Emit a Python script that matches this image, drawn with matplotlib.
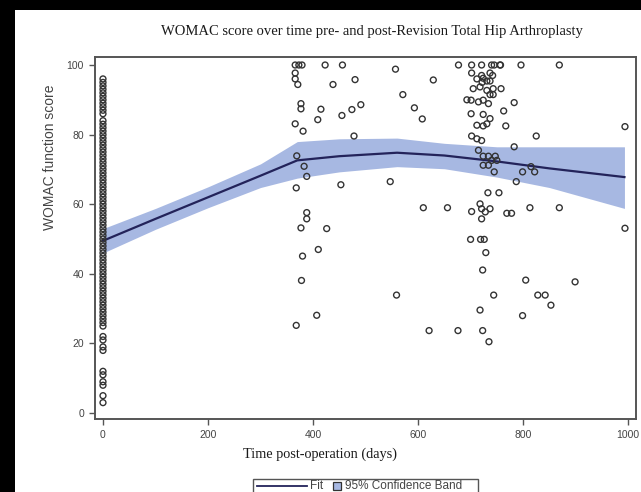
import numpy as np
import matplotlib
matplotlib.use("Agg")
import matplotlib.pyplot as plt
from matplotlib.lines import Line2D
from matplotlib.patches import Rectangle

# pre-operation scores (all at day 0)
pre_scores = [96, 95, 94, 93, 92, 91, 90, 89, 88, 87, 86, 84, 83, 82, 81, 80,
              79, 78, 77, 76, 75, 74, 73, 72, 71, 70, 69, 68, 67, 66, 65, 64,
              63, 62, 61, 60, 59, 58, 57, 56, 55, 54, 53, 52, 51, 50, 49, 48,
              47, 46, 45, 44, 43, 42, 41, 40, 39, 38, 37, 36, 35, 34, 33, 32,
              31, 30, 29, 28, 27, 26, 25, 22, 21, 19, 18, 12, 11, 9, 8, 5, 3]

# post-operation follow-up (day, score)
post_days = [366, 373, 379, 423, 456, 366, 366, 371, 438, 480, 377, 377, 415, 409,
             455, 474, 491, 366, 381, 478, 369, 383, 388, 368, 453, 388, 388, 377,
             426, 410, 380, 378, 407, 368,
             557, 547, 559, 571, 593, 608, 610, 621, 629, 656, 676, 677, 693, 700,
             701, 701, 702, 702, 702, 702, 705, 712, 712, 712, 715, 715, 718, 718,
             718, 719, 721, 721, 721, 721, 721, 722, 723, 723, 724, 724, 724, 724,
             724, 724, 726, 728, 729, 731, 731, 731, 733, 734, 734, 734, 735, 737,
             737, 737, 737, 737, 740, 740, 742, 743, 743, 744, 745, 745, 747, 750,
             754, 756, 757, 758, 763, 767, 769, 778, 783, 783, 787, 796, 799, 799,
             805, 813, 815, 822, 825, 828, 842, 853, 869, 869, 899, 994, 994]
post_scores = [100, 100, 100, 100, 100, 97.7, 96, 94.4, 94.4, 95.8, 88.9, 87.4, 87.3, 84.3,
               85.5, 87.2, 88.6, 83.1, 81, 79.6, 73.9, 70.9, 68, 64.7, 65.6, 57.6, 55.8, 53.2,
               53, 47, 45.1, 38.1, 28.1, 25.2,
               98.8, 66.5, 33.9, 91.5, 87.7, 84.5, 59, 23.7, 95.7, 59, 23.7, 100, 90, 49.9,
               89.9, 86, 100, 97.7, 79.6, 57.9, 93.2, 96, 82.7, 78.8, 89.4, 75.5, 93.7, 60.1,
               29.6, 49.9, 100, 97, 78.3, 58.7, 55.8, 95, 41.1, 23.7, 96.2, 89.9, 85.8, 82.5,
               73.8, 71.2, 49.9, 57.8, 46.1, 95.4, 92.7, 83.1, 63.3, 88.9, 73.8, 71.2, 20.5, 97.7,
               95.4, 91.5, 84.6, 58.7, 100, 72.6, 97, 93.2, 91.5, 33.9, 100, 69.3, 73.8, 72.6,
               63.3, 100, 100, 93.2, 86.8, 82.5, 57.4, 57.4, 89.2, 76.5, 66.5, 100, 69.3, 28,
               38.2, 59, 70.8, 69.3, 79.6, 33.9, 33.9, 31, 100, 59, 37.7, 82.3, 53.1]

# fitted curve and 95% confidence band
fit_days = [0, 100, 200, 300, 370, 450, 560, 650, 750, 850, 993]
fit_vals = [49.5, 55.8, 62.0, 68.2, 72.6, 73.8, 74.8, 74.0, 72.3, 70.3, 67.8]
band_lo = [46.0, 52.8, 59.0, 64.8, 67.5, 69.3, 70.8, 70.2, 67.8, 64.8, 58.8]
band_hi = [53.0, 58.8, 65.0, 71.6, 78.0, 78.8, 79.0, 77.5, 76.5, 76.5, 76.5]

band_color = "#a7b8e2"
line_color = "#23235a"
gray = "#555555"
W, H = 641, 492


def fx(px):
    return px / W


def fy(py):
    return 1 - py / H


fig = plt.figure(figsize=(6.41, 4.92), dpi=100, facecolor="black")
fig.patches.append(Rectangle((fx(15), 0), 1, fy(10), transform=fig.transFigure,
                             facecolor="white", edgecolor="none", zorder=-1))

ax = fig.add_axes([fx(95), fy(419), (636 - 95) / W, (419 - 57) / H])
ax.fill_between(fit_days, band_lo, band_hi, color=band_color, lw=0, zorder=1)
ax.plot(fit_days, fit_vals, color=line_color, lw=1.6, zorder=2)
ax.scatter([0] * len(pre_scores), pre_scores, s=18, facecolors="none",
           edgecolors="#333333", linewidths=1.0, zorder=3)
ax.scatter(post_days, post_scores, s=18, facecolors="none",
           edgecolors="#333333", linewidths=1.0, zorder=3)

ax.set_xlim(-15.2, 1015)
ax.set_ylim(-1.7, 102.3)
ax.set_xticks([0, 200, 400, 600, 800, 1000])
ax.set_yticks([0, 20, 40, 60, 80, 100])
for s in ax.spines.values():
    s.set_color(gray)
    s.set_linewidth(1.4)
ax.tick_params(direction="out", length=4, width=1, color=gray, labelcolor="#444444",
               labelsize=7.5, pad=4)
for lab in ax.get_xticklabels() + ax.get_yticklabels():
    lab.set_family("Liberation Sans")

fig.text(fx(372), fy(32), "WOMAC score over time pre- and post-Revision Total Hip Arthroplasty",
         ha="center", va="center", family="Liberation Serif", fontsize=10.5, color="#1a1a1a")
fig.text(fx(320), fy(454), "Time post-operation (days)", ha="center", va="center",
         family="Liberation Serif", fontsize=10.3, color="#1a1a1a")
fig.text(fx(50), fy(157), "WOMAC function score", ha="center", va="center",
         rotation=90, family="Liberation Sans", fontsize=10, color="#444444")

# legend box drawn by hand (line sample, "Fit", small square, band label)
fig.patches.append(Rectangle((fx(253), fy(494)), (478 - 253) / W, 15 / H,
                             transform=fig.transFigure, facecolor="white",
                             edgecolor=gray, lw=1.0))
fig.lines.append(Line2D([fx(257), fx(307)], [fy(486), fy(486)], transform=fig.transFigure,
                        color=line_color, lw=1.3))
fig.text(fx(310), fy(486), "Fit", ha="left", va="center", family="Liberation Sans",
         fontsize=8.5, color="#444444")
fig.patches.append(Rectangle((fx(333), fy(490)), 8 / W, 8 / H, transform=fig.transFigure,
                             facecolor=band_color, edgecolor="#333333", lw=0.9))
fig.text(fx(345), fy(486), "95% Confidence Band", ha="left", va="center",
         family="Liberation Sans", fontsize=8.5, color="#444444")

fig.savefig("out.png", dpi=100, facecolor=fig.get_facecolor())
